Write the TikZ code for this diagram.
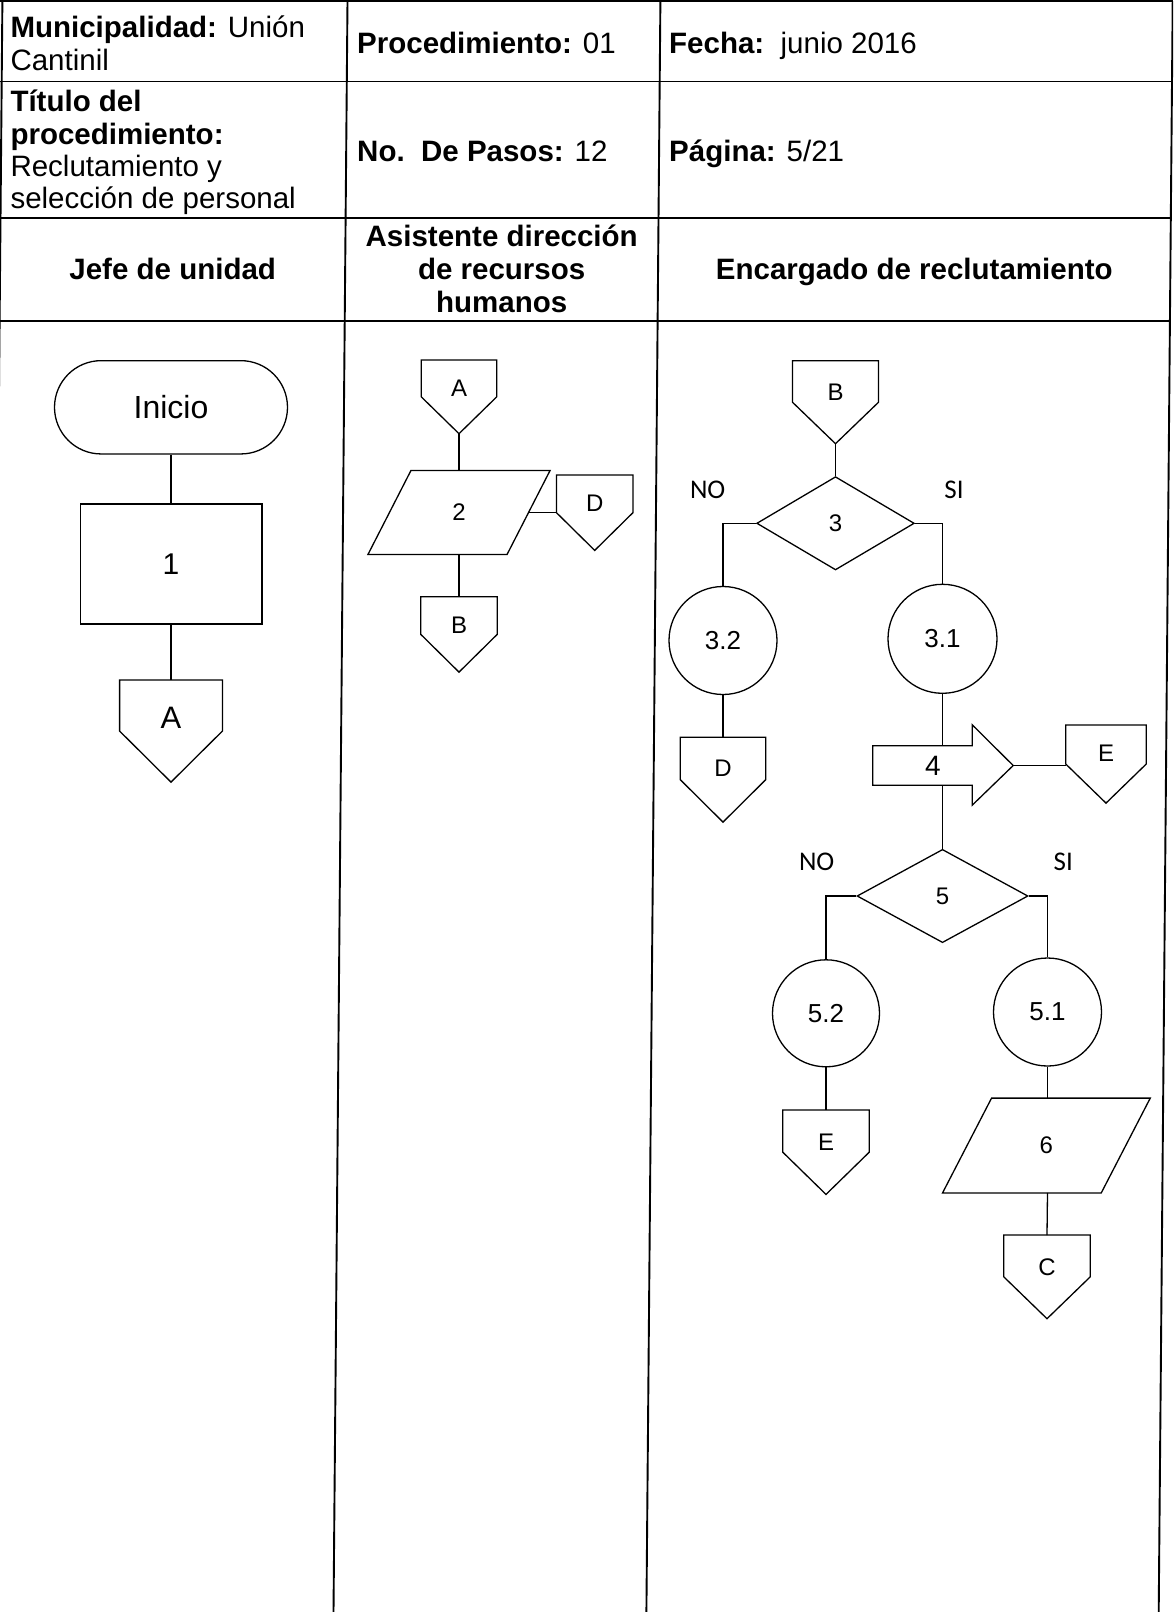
\documentclass[tikz,border=0pt]{standalone}
\usepackage{fontspec}
\setmainfont{Liberation Sans}
\newfontfamily\labelfont{Carlito}
\usetikzlibrary{shapes.geometric,shapes.misc,calc}

% font size in pt, one line
\newcommand{\setpx}[1]{\fontsize{#1}{#1}\selectfont}

% outline of an off-page connector: flat top, pointed bottom
\newcommand{\offpageoutline}[1]{%
  \draw[shapeline] (#1.north west) -- (#1.north east) -- (#1.east) --
    (#1.south) -- (#1.west) -- cycle;}

% outline of a data (input/output) parallelogram leaning right by #2
\newcommand{\slantedoutline}[2]{%
  \draw[shapeline] ($(#1.north west)+(#2,0)$) -- (#1.north east) --
    ($(#1.south east)+(-#2,0)$) -- (#1.south west) -- cycle;
  \coordinate (#1midright) at ($(#1.east)+(-0.5*#2,0)$);}

\begin{document}
\begin{tikzpicture}[x=1pt,y=-1pt,
  shapeline/.style={line width=1.3pt, line join=miter},
  gridline/.style={line width=1.9pt},
  link/.style={line width=1.3pt},
  headtext/.style={inner sep=0pt, font=\setpx{29.5}},
  proc/.style={draw, shapeline, rectangle, inner sep=0pt, font=\setpx{30}},
  term/.style={draw, shapeline, rounded rectangle, inner sep=0pt, font=\setpx{32}},
  decision/.style={draw, shapeline, diamond, inner sep=0pt, font=\setpx{24}},
  subproc/.style={draw, shapeline, circle, inner sep=0pt, font=\setpx{26}},
  iobox/.style={rectangle, inner sep=0pt, font=\setpx{24}},
  conn/.style n args={3}{inner sep=0pt, minimum width=#1, text height=#2,
    text depth=#3, anchor=north, font=\setpx{24}},
  answer/.style={inner sep=0pt, font=\labelfont\setpx{27}}
]
\useasboundingbox (0,0) rectangle (1173,1612);
\fill[white] (0,0) rectangle (1173,1612);

\begin{scope}
\clip (0,0) rectangle (1173,1612);
% table grid (scanned page: the column rules lean slightly)
\draw[gridline] (-20,1) -- (1172.7,1);
\draw[gridline] (-20,81.5) -- (1172.0,81.5);
\draw[gridline] (-20,218) -- (1170.8,218);
\draw[gridline] (-20,321) -- (1169.9,321);
\draw[gridline] (2.4,1) -- (-11.6,1612);
\draw[gridline] (347.5,1) -- (333.5,1612);
\draw[gridline] (660.4,1) -- (646.4,1612);
\draw[gridline] (1172.7,1) -- (1158.7,1612);
\end{scope}

% header cells
\node[headtext, anchor=base west] (hmun) at (10.3,37) {\textbf{Municipalidad:} Unión};
\node[headtext, anchor=base west] (hcant) at (10.3,70) {Cantinil};
\node[headtext, anchor=base west] (hproc) at (357,53) {\textbf{Procedimiento:} 01};
\node[headtext, anchor=base west] (hfecha) at (669,53) {\textbf{Fecha:}\ \ junio 2016};
\node[headtext, anchor=base west] (htit) at (10.3,111) {\textbf{Título del}};
\node[headtext, anchor=base west] (hproced) at (10.3,144) {\textbf{procedimiento:}};
\node[headtext, anchor=base west] (hrecl) at (10.3,176.5) {Reclutamiento y};
\node[headtext, anchor=base west] (hsel) at (10.3,208.5) {selección de personal};
\node[headtext, anchor=base west] (hpasos) at (357,161) {\textbf{No.\ \ De Pasos:} 12};
\node[headtext, anchor=base west] (hpag) at (669,161) {\textbf{Página:} 5/21};

% lane titles
\node[headtext, anchor=base] (lane1) at (172.7,279) {\textbf{Jefe de unidad}};
\node[headtext, anchor=base] (lane2a) at (501.7,246.5) {\textbf{Asistente dirección}};
\node[headtext, anchor=base] (lane2b) at (501.7,279) {\textbf{de recursos}};
\node[headtext, anchor=base] (lane2c) at (501.7,312) {\textbf{humanos}};
\node[headtext, anchor=base] (lane3) at (914.3,279) {\textbf{Encargado de reclutamiento}};

% lane 1: Jefe de unidad
\node[term, minimum width=233pt, minimum height=93.3pt] (inicio) at (171,407.3) {Inicio};
\node[proc, minimum width=181.7pt, minimum height=120pt] (s1) at (171,564) {1};
\node[conn={102.4pt}{48.3pt}{53.4pt}, font=\setpx{31}] (cA1) at (171,680) {A};
\offpageoutline{cA1}
\draw[link] (inicio.south) -- (s1.north);
\draw[link] (s1.south) -- (cA1.north);

% lane 2: Asistente
\node[conn={75pt}{36.7pt}{36.6pt}] (cA2) at (459,360) {A};
\offpageoutline{cA2}
\node[iobox, minimum width=181.7pt, minimum height=83.6pt] (s2) at (459,512.5) {2};
\slantedoutline{s2}{43}
\node[conn={76pt}{36.7pt}{38.3pt}] (cD2) at (594.7,475) {D};
\offpageoutline{cD2}
\node[conn={76pt}{36.7pt}{38.3pt}] (cB2) at (459,596.7) {B};
\offpageoutline{cB2}
\draw[link] (cA2.south) -- (s2.north);
\draw[link] (s2midright) -- (s2midright -| cD2.west);
\draw[link] (s2.south) -- (cB2.north);

% lane 3: Encargado de reclutamiento
\node[conn={85.7pt}{39.3pt}{43.3pt}] (cB3) at (835.5,360.7) {B};
\offpageoutline{cB3}
\node[decision, minimum width=157.6pt, minimum height=93.3pt] (s3) at (835.5,523.3) {3};
\node[answer] (no3) at (707.7,490) {NO};
\node[answer] (si3) at (954,490) {SI};
\node[subproc, minimum size=108pt] (s32) at (723,640.5) {3.2};
\node[subproc, minimum size=109pt] (s31) at (942.5,638.8) {3.1};
\node[conn={85pt}{39.4pt}{45pt}] (cD3) at (723,737.3) {D};
\offpageoutline{cD3}
\node[inner sep=0pt, minimum width=99pt, minimum height=39pt, font=\setpx{28}] (s4) at (922.5,765.5) {\hspace*{21pt}4};
\draw[shapeline] (s4.north west) -- (s4.north east) -- ++(0,-21)
  -- ($(s4.east)+(41,0)$) coordinate (s4tip) -- ($(s4.south east)+(0,20)$)
  -- (s4.south east) -- (s4.south west) -- cycle;
\node[conn={80pt}{36.7pt}{41pt}] (cE3) at (1106,725) {E};
\offpageoutline{cE3}
\node[decision, minimum width=171pt, minimum height=93.3pt] (s5) at (942.5,896) {5};
\node[answer] (no5) at (816.7,861.7) {NO};
\node[answer] (si5) at (1063.3,861.7) {SI};
\node[subproc, minimum size=107pt] (s52) at (826,1013.3) {5.2};
\node[subproc, minimum size=108pt] (s51) at (1047.5,1012) {5.1};
\node[conn={86pt}{40pt}{44pt}] (cE5) at (826,1110) {E};
\offpageoutline{cE5}
\node[iobox, minimum width=207.3pt, minimum height=94.4pt] (s6) at (1046.4,1145.5) {6};
\slantedoutline{s6}{49}
\node[conn={86pt}{40pt}{43.3pt}] (cC6) at (1047,1235) {C};
\offpageoutline{cC6}

\draw[link] (cB3.south) -- (s3.north);
\draw[link] (s3.west) -| (s32.north);
\draw[link] (s3.east) -| (s31.north);
\draw[link] (s32.south) -- (cD3.north);
\draw[link] (s31.south) -- (s31.south |- s4.north);
\draw[link] (s4tip) -- (s4tip -| cE3.west);
\draw[link] (s5.north |- s4.south) -- (s5.north);
\draw[link] (s5.west) -| (s52.north);
\draw[link] (s5.east) -| (s51.north);
\draw[link] (s52.south) -- (cE5.north);
\draw[link] (s51.south) -- (s51.south |- s6.north);
\draw[link] (s51.south |- s6.south) -- (cC6.north);
\end{tikzpicture}
\end{document}
